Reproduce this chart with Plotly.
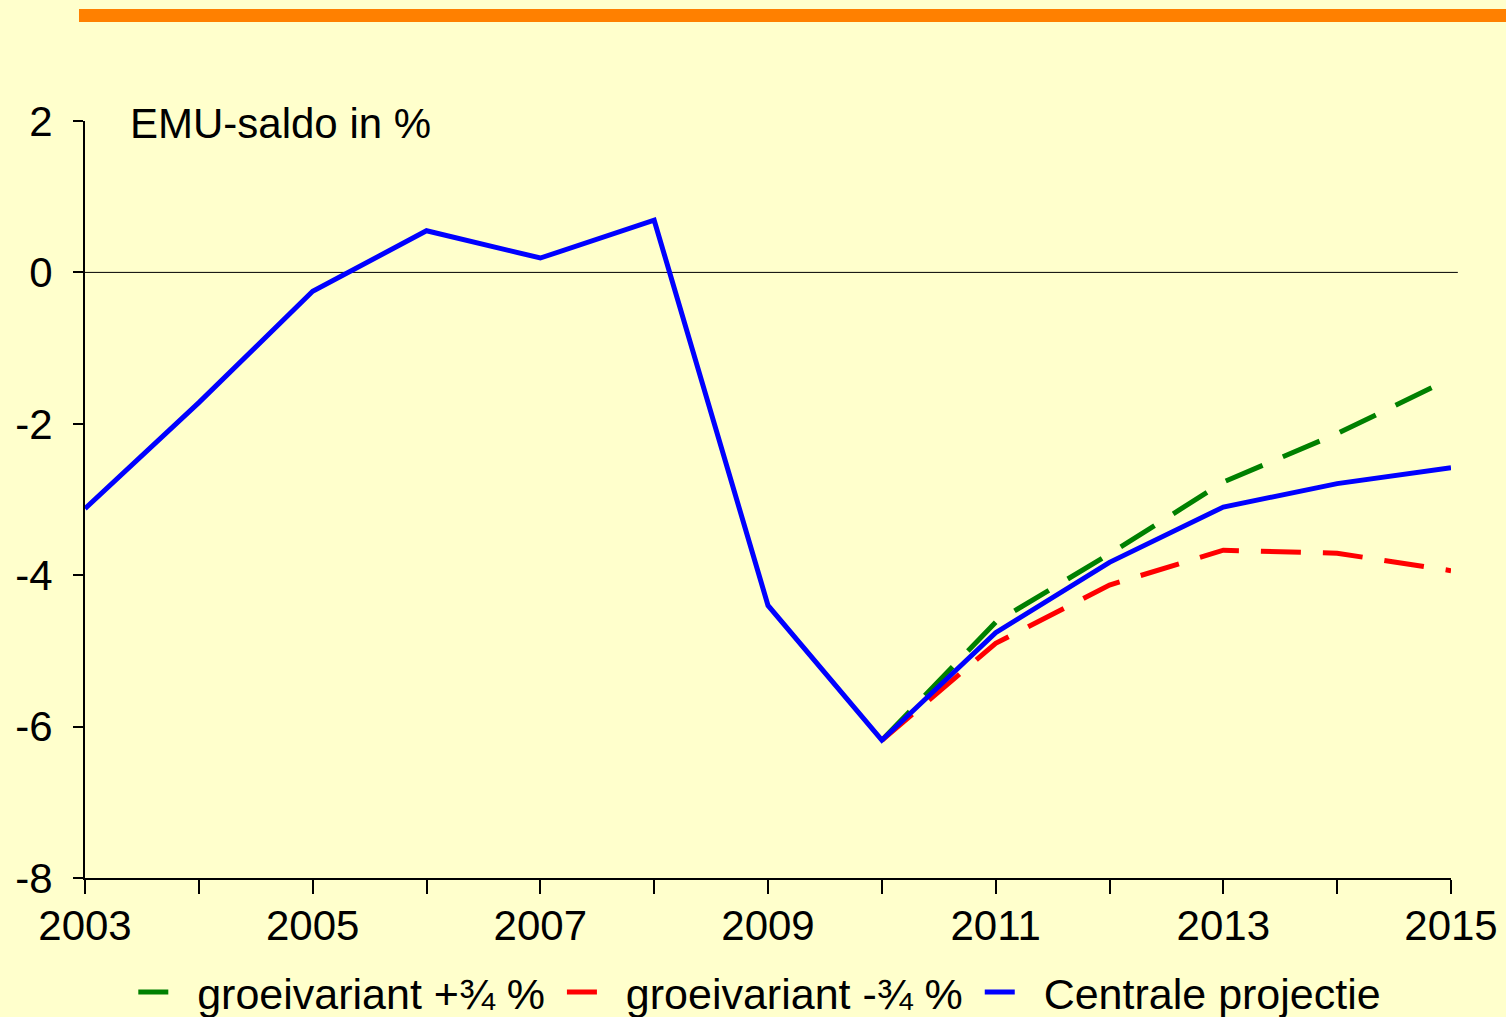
import plotly.graph_objects as go

years = list(range(2003, 2016))
central = [-3.12, -1.72, -0.25, 0.55, 0.19, 0.69, -4.40, -6.18, -4.76, -3.83, -3.10, -2.79, -2.58]
proj_years = list(range(2010, 2016))
grow_plus = [-6.18, -4.62, -3.72, -2.77, -2.13, -1.40]
grow_minus = [-6.18, -4.90, -4.13, -3.67, -3.71, -3.94]
x_tick_labels = [str(y) if y % 2 == 1 else "" for y in years]
y_ticks = [-8, -6, -4, -2, 0, 2]

FONT = "Liberation Sans, Arial, sans-serif"
BG = "#FFFFCC"
FS = 42
NB = "\u00a0"

fig = go.Figure()
fig.add_trace(go.Scatter(x=proj_years, y=grow_plus, mode="lines", name=NB * 2 + "groeivariant +¾ %" + NB,
                         line=dict(color="#008000", width=5, dash="40px,22px")))
fig.add_trace(go.Scatter(x=proj_years, y=grow_minus, mode="lines", name=NB * 2 + "groeivariant -¾ %" + NB,
                         line=dict(color="#FF0000", width=5, dash="40px,22px")))
fig.add_trace(go.Scatter(x=years, y=central, mode="lines", name=NB * 2 + "Centrale projectie",
                         line=dict(color="#0000FF", width=5)))

fig.update_layout(
    width=1506, height=1017,
    paper_bgcolor=BG, plot_bgcolor=BG,
    margin=dict(l=85, r=55, t=121, b=139, autoexpand=False),
    font=dict(family=FONT, size=FS, color="black"),
    showlegend=True,
    legend=dict(orientation="h", x=0.494, xanchor="center", y=-0.1506, yanchor="middle",
                bgcolor="rgba(0,0,0,0)", font=dict(size=43), tracegroupgap=0,
                itemwidth=30),
    xaxis=dict(range=[2003, 2015], tickvals=years, ticktext=x_tick_labels,
               showgrid=False, zeroline=False, showline=True, linecolor="black", linewidth=2,
               ticks="outside", ticklen=14, tickwidth=2, tickcolor="black",
               tickfont=dict(size=FS), ticklabelstandoff=-4),
    yaxis=dict(range=[-8, 2], tickvals=y_ticks, ticktext=[str(v) for v in y_ticks],
               showgrid=False, zeroline=False,
               showline=True, linecolor="black", linewidth=2,
               ticks="outside", ticklen=10, tickwidth=2, tickcolor="black",
               tickfont=dict(size=FS), ticklabelstandoff=12),
    shapes=[dict(type="rect", xref="paper", yref="paper", x0=-0.0044, x1=1.05,
                 y0=1.1308, y1=1.148, fillcolor="#FF8000", line=dict(width=0), layer="above")],
    annotations=[dict(text="EMU-saldo in %", xref="paper", yref="paper", x=0.0315, y=0.997,
                      xanchor="left", yanchor="middle", showarrow=False, font=dict(size=FS))],
)
fig.add_shape(type="line", xref="paper", yref="y", x0=0, x1=1.005, y0=0, y1=0,
              line=dict(color="black", width=1), layer="below")

fig.write_html("out.html", config={"displayModeBar": False},
               post_script="document.body.style.margin='0';document.body.style.overflow='hidden';")
